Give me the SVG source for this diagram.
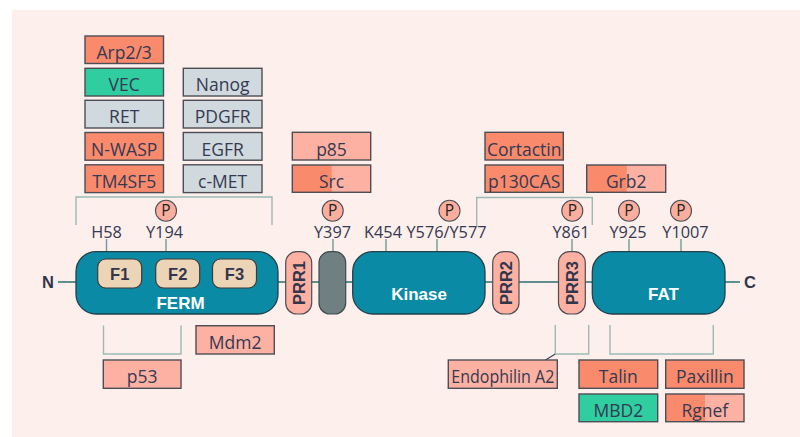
<svg xmlns="http://www.w3.org/2000/svg" width="800" height="437" viewBox="0 0 800 437">
  <style>
    .box { stroke: #4d4d55; stroke-width: 1.4; }
    .orange { fill: #f98b6c; }
    .green { fill: #2fcda0; }
    .grey { fill: #d0d9de; }
    .pink { fill: #fdb1a2; }
    .lbl { font-family: "Open Sans", "Noto Sans", sans-serif; font-size: 17.5px; fill: #353952; text-anchor: middle; }
    .site { font-family: "Open Sans", "Noto Sans", sans-serif; font-size: 16.3px; fill: #353952; text-anchor: middle; }
    .dom { font-family: "Liberation Sans", Arial, sans-serif; font-weight: bold; font-size: 17px; fill: #ffffff; text-anchor: middle; }
    .sub { font-family: "Liberation Sans", Arial, sans-serif; font-weight: bold; font-size: 16.5px; fill: #33364a; text-anchor: middle; }
    .end { font-family: "Liberation Sans", Arial, sans-serif; font-weight: bold; font-size: 16.5px; fill: #33364a; text-anchor: middle; }
    .bracket { fill: none; stroke: #9bbab6; stroke-width: 1.4; }
    .tick { stroke: #6f9c9a; stroke-width: 1.4; }
    .backbone { stroke: #5f8f8d; stroke-width: 2; }
    .domain { fill: #0b8aa6; stroke: #22414a; stroke-width: 1.3; }
    .fsub { fill: #ecd4b6; stroke: #3e3a35; stroke-width: 1.2; }
    .prr { fill: #fdb1a2; stroke: #4d4d55; stroke-width: 1.2; }
    .phos circle { fill: #fbae9e; stroke: #4d4d55; stroke-width: 1.1; }
    .phos text { font-family: "Open Sans", "Noto Sans", sans-serif; font-size: 15.5px; fill: #222; text-anchor: middle; }
  </style>

  <!-- backdrop -->
  <rect x="0" y="0" width="800" height="437" fill="#ffffff"/>
  <rect x="12" y="10" width="788" height="427" fill="#fdefeb"/>

  <!-- connectors: backbone, residue ticks and binding brackets -->
  <g id="connectors">
    <line class="backbone" x1="58" y1="282" x2="740" y2="282"/>
    <line class="tick" x1="106.5" y1="239" x2="106.5" y2="252"/>
    <line class="tick" x1="166" y1="239" x2="166" y2="252"/>
    <line class="tick" x1="333" y1="239" x2="333" y2="252"/>
    <line class="tick" x1="386" y1="239" x2="386" y2="252"/>
    <line class="tick" x1="437" y1="239" x2="437" y2="252"/>
    <line class="tick" x1="572" y1="239" x2="572" y2="252"/>
    <line class="tick" x1="629" y1="239" x2="629" y2="252"/>
    <line class="tick" x1="681" y1="239" x2="681" y2="252"/>
    <!-- brackets above -->
    <polyline class="bracket" points="76,225 76,197 272,197 272,225"/>
    <polyline class="bracket" points="476.7,227 476.7,197.5 592.3,197.5 592.3,225"/>
    <!-- brackets below -->
    <polyline class="bracket" points="103.5,325.5 103.5,354 181,354 181,325.5"/>
    <polyline class="bracket" points="555.3,325 555.3,354 588.7,354 588.7,325"/>
    <line x1="555.3" y1="354" x2="545.5" y2="360" stroke="#3b3f5a" stroke-width="1.1"/>
    <polyline class="bracket" points="610,325 610,354 713.3,354 713.3,325"/>
  </g>

  <!-- protein termini -->
  <g id="n-term"><text class="end" x="48" y="288">N</text></g>
  <g id="c-term"><text class="end" x="750" y="288">C</text></g>

  <!-- protein domains -->
  <g id="ferm">
    <rect class="domain" x="76" y="251.7" width="202" height="62.3" rx="20"/>
    <rect class="fsub" x="97.7" y="259" width="44" height="29" rx="8"/>
    <text class="sub" x="119.7" y="279.5">F1</text>
    <rect class="fsub" x="155.7" y="259" width="44" height="29" rx="8"/>
    <text class="sub" x="177.7" y="279.5">F2</text>
    <rect class="fsub" x="212.5" y="259" width="44" height="29" rx="8"/>
    <text class="sub" x="234.5" y="279.5">F3</text>
    <text class="dom" x="180.5" y="308.5">FERM</text>
  </g>

  <g id="prr1">
    <rect class="prr" x="285.7" y="251.7" width="26" height="62.3" rx="11"/>
    <text class="sub" transform="translate(304.7,283) rotate(-90)" x="0" y="0">PRR1</text>
  </g>

  <g id="linker-y397">
    <rect x="319" y="251.7" width="26.7" height="62.3" rx="11" fill="#6f7f82" stroke="#3e4a4c" stroke-width="1.2"/>
  </g>

  <g id="kinase">
    <rect class="domain" x="352.7" y="251.7" width="132.3" height="62.3" rx="20"/>
    <text class="dom" x="419" y="299.5">Kinase</text>
  </g>

  <g id="prr2">
    <rect class="prr" x="492.7" y="251.7" width="26.3" height="62.3" rx="11"/>
    <text class="sub" transform="translate(511.8,283) rotate(-90)" x="0" y="0">PRR2</text>
  </g>

  <g id="prr3">
    <rect class="prr" x="558.5" y="251.7" width="26.8" height="62.3" rx="11"/>
    <text class="sub" transform="translate(577.8,283) rotate(-90)" x="0" y="0">PRR3</text>
  </g>

  <g id="fat">
    <rect class="domain" x="592.3" y="251.7" width="132.7" height="62.3" rx="20"/>
    <text class="dom" x="663.5" y="299.5">FAT</text>
  </g>

  <!-- residue labels -->
  <g id="sites">
    <text class="site" x="106.5" y="237.5">H58</text>
    <text class="site" x="164.5" y="237.5">Y194</text>
    <text class="site" x="332.5" y="237.5">Y397</text>
    <text class="site" x="383" y="237.5">K454</text>
    <text class="site" x="446.5" y="237.5">Y576/Y577</text>
    <text class="site" x="571" y="237.5">Y861</text>
    <text class="site" x="628" y="237.5">Y925</text>
    <text class="site" x="685.5" y="237.5">Y1007</text>
  </g>

  <!-- phosphorylation marks -->
  <g id="phos-y194" class="phos"><circle cx="166" cy="210.7" r="10.5"/><text x="166" y="216">P</text></g>
  <g id="phos-y397" class="phos"><circle cx="332.7" cy="210.7" r="10.5"/><text x="332.7" y="216">P</text></g>
  <g id="phos-y576" class="phos"><circle cx="449.5" cy="210.7" r="10.5"/><text x="449.5" y="216">P</text></g>
  <g id="phos-y861" class="phos"><circle cx="572.3" cy="210.7" r="10.5"/><text x="572.3" y="216">P</text></g>
  <g id="phos-y925" class="phos"><circle cx="629" cy="210.7" r="10.5"/><text x="629" y="216">P</text></g>
  <g id="phos-y1007" class="phos"><circle cx="681" cy="210.7" r="10.5"/><text x="681" y="216">P</text></g>

  <!-- binding partners: FERM -->
  <g id="arp23"><rect class="box orange" x="85" y="36" width="78.5" height="27.5"/><text class="lbl" x="124.2" y="58.5">Arp2/3</text></g>
  <g id="vec"><rect class="box green" x="85" y="68.3" width="78.5" height="27.7"/><text class="lbl" x="124.2" y="90.8">VEC</text></g>
  <g id="ret"><rect class="box grey" x="85" y="100.3" width="78.5" height="27.7"/><text class="lbl" x="124.2" y="122.8">RET</text></g>
  <g id="nwasp"><rect class="box orange" x="85" y="132.5" width="78.5" height="27.7"/><text class="lbl" x="124.2" y="155.5">N-WASP</text></g>
  <g id="tm4sf5"><rect class="box orange" x="85" y="164.8" width="78.5" height="27.8"/><text class="lbl" x="124.2" y="187.5">TM4SF5</text></g>
  <g id="nanog"><rect class="box grey" x="183.3" y="68.3" width="78.7" height="27.7"/><text class="lbl" x="222.6" y="90.8">Nanog</text></g>
  <g id="pdgfr"><rect class="box grey" x="183.3" y="100.3" width="78.7" height="27.7"/><text class="lbl" x="222.6" y="122.8">PDGFR</text></g>
  <g id="egfr"><rect class="box grey" x="183.3" y="132.5" width="78.7" height="27.7"/><text class="lbl" x="222.6" y="155.5">EGFR</text></g>
  <g id="cmet"><rect class="box grey" x="183.3" y="164.8" width="78.7" height="27.8"/><text class="lbl" x="222.6" y="187.5">c-MET</text></g>

  <!-- binding partners: Y397 -->
  <g id="p85"><rect class="box pink" x="292.3" y="132.3" width="78.4" height="27.7"/><text class="lbl" x="331.5" y="155.5">p85</text></g>
  <g id="src">
    <rect class="pink" x="292.3" y="165" width="78.4" height="27.3"/>
    <rect class="orange" x="292.3" y="165" width="39.4" height="27.3"/>
    <rect class="box" fill="none" x="292.3" y="165" width="78.4" height="27.3"/>
    <text class="lbl" x="331.5" y="187.5">Src</text>
  </g>

  <!-- binding partners: kinase / PRR -->
  <g id="cortactin"><rect class="box orange" x="485" y="132.3" width="78.3" height="27.7"/><text class="lbl" x="524.2" y="155.5">Cortactin</text></g>
  <g id="p130cas"><rect class="box orange" x="485" y="165" width="78.3" height="27.3"/><text class="lbl" x="524.2" y="187.5">p130CAS</text></g>
  <g id="grb2">
    <rect class="pink" x="586.7" y="165" width="79" height="27.3"/>
    <rect class="orange" x="586.7" y="165" width="40" height="27.3"/>
    <rect class="box" fill="none" x="586.7" y="165" width="79" height="27.3"/>
    <text class="lbl" x="626.2" y="187.5">Grb2</text>
  </g>

  <!-- binding partners below -->
  <g id="mdm2"><rect class="box pink" x="196" y="325.7" width="78.3" height="28.3"/><text class="lbl" x="235.2" y="348.8">Mdm2</text></g>
  <g id="p53"><rect class="box pink" x="103.3" y="360" width="77.7" height="28.3"/><text class="lbl" x="142.2" y="383">p53</text></g>
  <g id="endophilin"><rect class="box pink" x="448.3" y="360" width="109" height="28.3"/><text class="lbl" x="502.8" y="383" textLength="103" lengthAdjust="spacingAndGlyphs">Endophilin A2</text></g>
  <g id="talin"><rect class="box orange" x="579" y="360" width="78.7" height="28.3"/><text class="lbl" x="618.3" y="383">Talin</text></g>
  <g id="paxillin"><rect class="box orange" x="665.7" y="360" width="78.3" height="28.3"/><text class="lbl" x="704.8" y="383">Paxillin</text></g>
  <g id="mbd2"><rect class="box green" x="579" y="394" width="78.7" height="27.7"/><text class="lbl" x="618.3" y="416.8">MBD2</text></g>
  <g id="rgnef">
    <rect class="pink" x="665.7" y="394" width="78.3" height="27.7"/>
    <rect class="orange" x="665.7" y="394" width="39.3" height="27.7"/>
    <rect class="box" fill="none" x="665.7" y="394" width="78.3" height="27.7"/>
    <text class="lbl" x="704.8" y="416.8">Rgnef</text>
  </g>
</svg>
